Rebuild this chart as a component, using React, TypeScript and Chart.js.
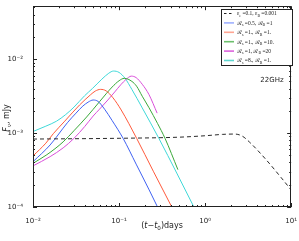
import React, { useEffect, useRef } from 'react';
import { Chart, registerables } from 'chart.js';
Chart.register(...registerables);

// ---- data ----
const refT = [0.01, 0.1, 0.5, 1.0, 1.6, 2.2, 2.7, 3.3, 5.0, 7.65, 10];
const refF = [8.3e-4, 8.5e-4, 8.8e-4, 9.2e-4, 9.6e-4, 9.7e-4, 9.1e-4, 7.5e-4, 4.5e-4, 2.5e-4, 1.7e-4];

const blueT = [0.01, 0.0158, 0.0251, 0.0316, 0.038, 0.0437, 0.05, 0.057, 0.068, 0.083, 0.112, 0.158, 0.224, 0.28];
const blueF = [4.1e-4, 6.9e-4, 1.38e-3, 1.86e-3, 2.32e-3, 2.62e-3, 2.8e-3, 2.68e-3, 2.1e-3, 1.48e-3, 8.4e-4, 3.8e-4, 1.7e-4, 1.0e-4];

const redT = [0.01, 0.0141, 0.0172, 0.0234, 0.0348, 0.0467, 0.053, 0.061, 0.0708, 0.085, 0.106, 0.16, 0.25, 0.41];
const redF = [4.9e-4, 7.3e-4, 9.8e-4, 1.45e-3, 2.4e-3, 3.3e-3, 3.7e-3, 3.9e-3, 3.72e-3, 3.0e-3, 2.05e-3, 8.5e-4, 3.05e-4, 1.0e-4];

const greenT = [0.01, 0.0145, 0.0224, 0.03, 0.042, 0.0592, 0.0708, 0.0832, 0.1, 0.115, 0.141, 0.16, 0.186, 0.223, 0.28, 0.342, 0.483];
const greenF = [3.9e-4, 5.1e-4, 7.6e-4, 1.08e-3, 1.65e-3, 2.65e-3, 3.4e-3, 4.2e-3, 5.1e-3, 5.5e-3, 5.0e-3, 4.3e-3, 3.15e-3, 2.2e-3, 1.35e-3, 8.5e-4, 3.2e-4];

const magentaT = [0.01, 0.0158, 0.0224, 0.03, 0.04, 0.05, 0.0592, 0.0741, 0.0891, 0.1047, 0.1202, 0.139, 0.158, 0.186, 0.223, 0.277];
const magentaF = [3.6e-4, 4.8e-4, 6.3e-4, 8.5e-4, 1.23e-3, 1.7e-3, 2.1e-3, 2.8e-3, 3.6e-3, 4.5e-3, 5.3e-3, 5.89e-3, 5.62e-3, 4.57e-3, 3.31e-3, 1.86e-3];

const cyanT = [0.01, 0.0141, 0.0188, 0.024, 0.03, 0.0398, 0.049, 0.063, 0.076, 0.086, 0.1, 0.1175, 0.141, 0.186, 0.29, 0.468, 0.741];
const cyanF = [1.05e-3, 1.24e-3, 1.45e-3, 1.78e-3, 2.25e-3, 3.2e-3, 4.0e-3, 5.35e-3, 6.45e-3, 6.9e-3, 6.61e-3, 5.5e-3, 3.89e-3, 2.19e-3, 8.5e-4, 2.88e-4, 1.0e-4];

const xMajor = [0.01, 0.1, 1, 10];
const xMajorLabels = ['10⁻²', '10⁻¹', '10⁰', '10¹'];
const yMajor = [1e-4, 1e-3, 1e-2];
const yMajorLabels = ['10⁻⁴', '10⁻³', '10⁻²'];
const X_MIN = 0.01, X_MAX = 10, Y_MIN = 1e-4, Y_MAX = 0.052;

const legendMain = [
  ['ε', 'e', ' =0.1, ', 'ε', 'B', ' =0.001'],
  ['ℛ', 's', ' =0.5, ', 'ℛ', 'B', ' =1'],
  ['ℛ', 's', ' =1., ', 'ℛ', 'B', ' =1.'],
  ['ℛ', 's', ' =1., ', 'ℛ', 'B', ' =10.'],
  ['ℛ', 's', ' =1, ', 'ℛ', 'B', ' =20'],
  ['ℛ', 's', ' =8., ', 'ℛ', 'B', ' =1.'],
];
const bandLabel = '22GHz';

// styles
const lineColors = ['#2a2a2a', '#4062f2', '#ff5a3c', '#3aa83a', '#d94fd9', '#3fd8d8'];
const legendColors = ['#222222', '#9fb0ff', '#ffa592', '#6cbf6c', '#dc62dc', '#5fd6d0'];

function pts(t: number[], f: number[]) {
  return t.map((v, i) => ({ x: v, y: f[i] }));
}

function minorTicks(majors: number[], lo: number, hi: number) {
  const out: number[] = [];
  for (const m of majors) {
    for (let k = 1; k <= 9; k++) {
      const v = m * k;
      if (v >= lo * 0.999 && v <= hi * 1.001) out.push(v);
    }
  }
  return out;
}

function labelFor(v: number, majors: number[], labels: string[]) {
  for (let i = 0; i < majors.length; i++) {
    if (Math.abs(v - majors[i]) / majors[i] < 1e-6) return labels[i];
  }
  return '';
}

type Seg = { t: string; it?: boolean; sub?: boolean };
function drawRich(ctx: CanvasRenderingContext2D, segs: Seg[], x: number, y: number, size: number, family: string, align: 'left' | 'center') {
  const fontFor = (s: Seg) => `${s.it ? 'italic ' : ''}${s.sub ? size * 0.7 : size}px ${family}`;
  let w = 0;
  for (const s of segs) { ctx.font = fontFor(s); w += ctx.measureText(s.t).width; }
  let cx = align === 'center' ? x - w / 2 : x;
  ctx.textAlign = 'left';
  ctx.textBaseline = 'alphabetic';
  for (const s of segs) {
    ctx.font = fontFor(s);
    ctx.fillText(s.t, cx, s.sub ? y + size * 0.28 : y);
    cx += ctx.measureText(s.t).width;
  }
}

const decorPlugin = {
  id: 'decor',
  afterDraw(chart: any) {
    const ctx: CanvasRenderingContext2D = chart.ctx;
    const a = chart.chartArea;
    const xs = chart.scales.x, ys = chart.scales.y;
    ctx.save();
    ctx.strokeStyle = '#222';
    ctx.lineWidth = 1;
    ctx.setLineDash([]);
    ctx.strokeRect(Math.round(a.left) + 0.5, Math.round(a.top) + 0.5, Math.round(a.right - a.left) - 1, Math.round(a.bottom - a.top) - 1);
    ctx.beginPath();
    for (const tk of xs.ticks) {
      const major = labelFor(tk.value, xMajor, xMajorLabels) !== '';
      const len = major ? 4 : 2;
      const px = Math.round(xs.getPixelForValue(tk.value)) + 0.5;
      ctx.moveTo(px, a.bottom); ctx.lineTo(px, a.bottom - len);
      ctx.moveTo(px, a.top); ctx.lineTo(px, a.top + len);
    }
    for (const tk of ys.ticks) {
      const major = labelFor(tk.value, yMajor, yMajorLabels) !== '';
      const len = major ? 4 : 2;
      const py = Math.round(ys.getPixelForValue(tk.value)) + 0.5;
      ctx.moveTo(a.left, py); ctx.lineTo(a.left + len, py);
      ctx.moveTo(a.right, py); ctx.lineTo(a.right - len, py);
    }
    ctx.stroke();

    // legend
    const bx = 221.5, by = 9.5, bw = 71, bh = 56;
    ctx.fillStyle = '#fff';
    ctx.fillRect(bx, by, bw, bh);
    ctx.strokeStyle = '#222';
    ctx.lineWidth = 1;
    ctx.strokeRect(bx, by, bw, bh);
    const rowY = [13.5, 22.9, 32.3, 41.7, 51.1, 60.5];
    for (let i = 0; i < legendMain.length; i++) {
      const y = rowY[i];
      ctx.beginPath();
      ctx.strokeStyle = legendColors[i];
      if (i === 0) { ctx.setLineDash([2.5, 2.5]); ctx.lineWidth = 1; } else { ctx.setLineDash([]); ctx.lineWidth = 1.6; }
      ctx.moveTo(224, y); ctx.lineTo(234, y);
      ctx.stroke();
      ctx.setLineDash([]);
      const m = legendMain[i];
      const segs: Seg[] = [
        { t: m[0] }, { t: m[1], sub: true }, { t: m[2] }, { t: m[3] }, { t: m[4], sub: true }, { t: m[5] },
      ];
      ctx.fillStyle = '#222';
      drawRich(ctx, segs, 237, y + 1.8, 5.5, '"Liberation Serif", "DejaVu Serif", serif', 'left');
    }

    ctx.fillStyle = '#222';
    ctx.font = '7px "DejaVu Sans", sans-serif';
    ctx.textAlign = 'center';
    ctx.textBaseline = 'middle';
    ctx.fillText(bandLabel, 272, 80);

    drawRich(ctx, [{ t: '(' }, { t: 't', it: true }, { t: '−' }, { t: 't', it: true }, { t: '0', sub: true }, { t: ')days' }],
      (a.left + a.right) / 2, 228, 8, '"DejaVu Sans", sans-serif', 'center');

    ctx.save();
    ctx.translate(9, 118);
    ctx.rotate(-Math.PI / 2);
    drawRich(ctx, [{ t: 'F', it: true }, { t: 'ν', sub: true }, { t: ', mJy' }], 0, 0, 8, '"DejaVu Sans", sans-serif', 'center');
    ctx.restore();

    ctx.restore();
  },
};

export default function App() {
  const ref = useRef<HTMLCanvasElement | null>(null);
  useEffect(() => {
    document.body.style.margin = '0';
    const canvas = ref.current!;
    const series = [
      pts(refT, refF), pts(blueT, blueF), pts(redT, redF), pts(greenT, greenF), pts(magentaT, magentaF), pts(cyanT, cyanF),
    ];
    const chart = new Chart(canvas, {
      type: 'line',
      data: {
        datasets: series.map((d, i) => ({
          data: d,
          borderColor: lineColors[i],
          borderWidth: 1,
          borderDash: i === 0 ? [4, 3] : [],
          pointRadius: 0,
          fill: false,
          cubicInterpolationMode: 'monotone' as const,
        })),
      },
      options: {
        responsive: false,
        animation: false,
        events: [],
        layout: { padding: { top: 6, right: 6, left: 0, bottom: 0 } },
        plugins: { legend: { display: false }, tooltip: { enabled: false }, title: { display: false } },
        scales: {
          x: {
            type: 'logarithmic',
            min: X_MIN,
            max: X_MAX,
            grid: { display: false },
            border: { display: false },
            afterBuildTicks: (scale: any) => {
              scale.ticks = minorTicks(xMajor, X_MIN, X_MAX).map((v) => ({ value: v }));
            },
            afterFit: (scale: any) => { scale.height = 34; },
            ticks: {
              autoSkip: false,
              maxRotation: 0,
              minRotation: 0,
              padding: 2,
              color: '#222',
              font: { family: '"DejaVu Sans", sans-serif', size: 7 },
              callback: (v: any) => labelFor(Number(v), xMajor, xMajorLabels),
            },
          },
          y: {
            type: 'logarithmic',
            min: Y_MIN,
            max: Y_MAX,
            grid: { display: false },
            border: { display: false },
            afterBuildTicks: (scale: any) => {
              scale.ticks = minorTicks(yMajor, Y_MIN, Y_MAX).map((v) => ({ value: v }));
            },
            afterFit: (scale: any) => { scale.width = 33; },
            ticks: {
              autoSkip: false,
              padding: 2,
              color: '#222',
              font: { family: '"DejaVu Sans", sans-serif', size: 7 },
              callback: (v: any) => labelFor(Number(v), yMajor, yMajorLabels),
            },
          },
        },
      },
      plugins: [decorPlugin],
    } as any);
    return () => chart.destroy();
  }, []);
  return <canvas ref={ref} width={299} height={241} style={{ display: 'block' }} />;
}
